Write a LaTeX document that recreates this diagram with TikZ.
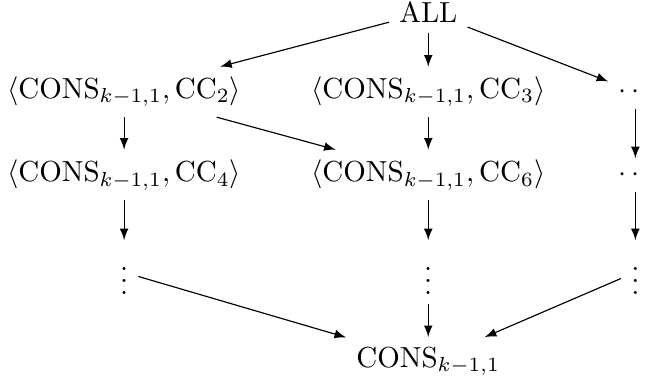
\documentclass[tikz,border=0pt]{standalone}
\usetikzlibrary{positioning,arrows}

\begin{document}
\begin{tikzpicture}[>=latex, on grid]
		\useasboundingbox (0,0) rectangle (7.817,-4.668);
		\draw
		node at (5.19,-0.144) (all) {ALL}
		node[below left=0.97cm and 3.686cm of all] (cc2) {$\langle\mathrm{CONS}_{k-1,1},\mathrm{CC}_2\rangle$}
		node[below=0.97cm of all] (cc3) {$\langle\mathrm{CONS}_{k-1,1},\mathrm{CC}_3\rangle$}
		node[below right=0.97cm and 2.51cm of all] (r1) {$\cdots$}
		node[below=1.006cm of cc2] (cc4) {$\langle\mathrm{CONS}_{k-1,1},\mathrm{CC}_4\rangle$}
		node[below=1.006cm of cc3] (cc6) {$\langle\mathrm{CONS}_{k-1,1},\mathrm{CC}_6\rangle$}
		node[below=1.006cm of r1] (r2) {$\cdots$}
		node[below=1.18cm of cc4] (v1) {$\vdots$}
		node[below=1.18cm of cc6] (v2) {$\vdots$}
		node[below=1.18cm of r2] (v3) {$\vdots$}
		node[below=1.08cm of v2] (cons) {$\mathrm{CONS}_{k-1,1}$};
		\draw[->] (all) -- (cc2);
		\draw[->] (all) -- (cc3);
		\draw[->] (all) -- (r1);
		\draw[->] (cc2) -- (cc4);
		\draw[->] (cc2) -- (cc6);
		\draw[->] (cc3) -- (cc6);
		\draw[->] (r1) -- (r2);
		\draw[->] (cc4) -- (v1);
		\draw[->] (cc6) -- (v2);
		\draw[->] (r2) -- (v3);
		\draw[->] (v1) -- (cons);
		\draw[->] (v2) -- (cons);
		\draw[->] (v3) -- (cons);
	\end{tikzpicture}
\end{document}
